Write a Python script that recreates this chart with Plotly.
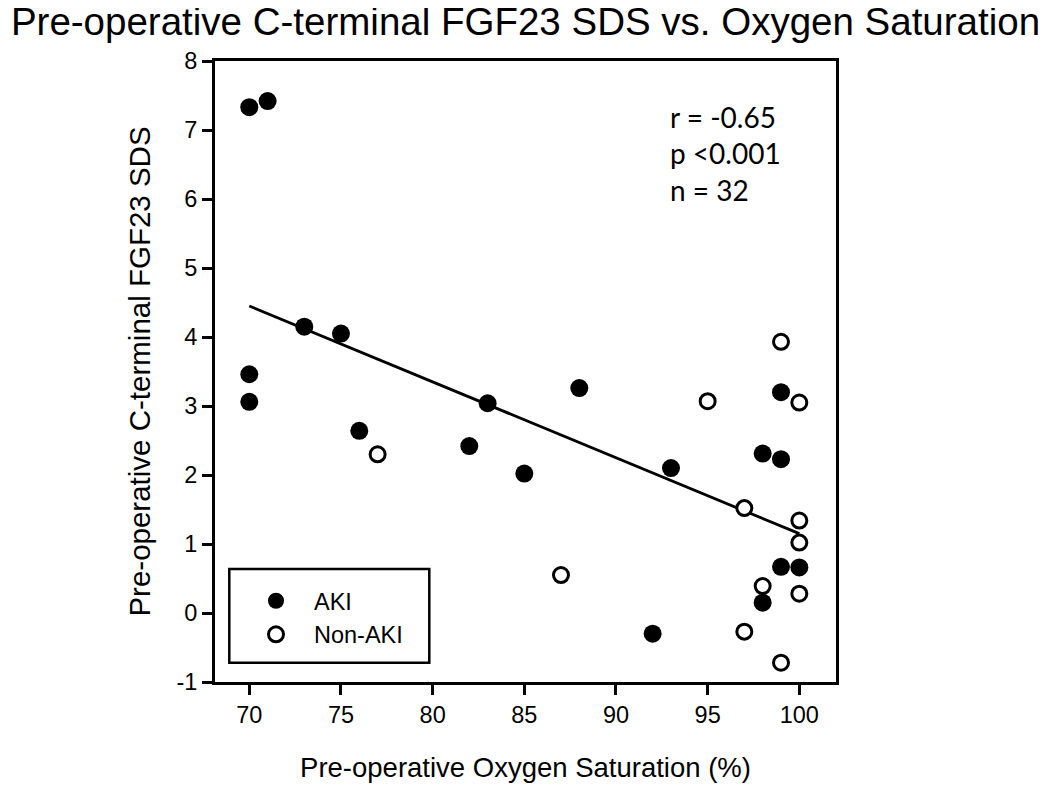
import plotly.graph_objects as go

# ---- data ----
aki_sat = [70, 71, 73, 75, 70, 70, 76, 82, 83, 85, 88, 92, 93, 98, 99, 99, 99, 100, 98]
aki_fgf = [7.33, 7.42, 4.15, 4.05, 3.46, 3.06, 2.64, 2.42, 3.04, 2.02, 3.26, -0.30, 2.10, 2.31, 3.20, 2.23, 0.67, 0.66, 0.15]

non_sat = [77, 87, 95, 97, 97, 98, 99, 99, 100, 100, 100, 100]
non_fgf = [2.30, 0.55, 3.07, 1.52, -0.27, 0.39, 3.93, -0.72, 3.05, 1.34, 1.02, 0.28]

fit_sat = [70, 100]
fit_fgf = [4.45, 1.15]

x_ticks = [70, 75, 80, 85, 90, 95, 100]
y_ticks = [-1, 0, 1, 2, 3, 4, 5, 6, 7, 8]
y_tick_labels = ["-1", "0", "1", "2", "3", "4", "5", "6", "7", "8"]

stats_text = "r = -0.65<br>p <0.001<br>n = 32"

FONT = "Liberation Sans, Arial, sans-serif"

# page body has an 8px offset; plot area target (window px): x 215-836, y 61-682
OFF = 8
L, R, T, B = 215, 836, 61, 682
W, H = 1050, 787
PW, PH = R - L, B - T

def px(x):
    return (x - L) / PW

def py(y):
    return (B - y) / PH

fig = go.Figure()
fig.add_trace(go.Scatter(
    x=fit_sat, y=fit_fgf, mode="lines", showlegend=False,
    line=dict(color="black", width=2.8), hoverinfo="skip"))
fig.add_trace(go.Scatter(
    x=aki_sat, y=aki_fgf, mode="markers", name="AKI",
    marker=dict(size=18, color="black", line=dict(color="black", width=0))))
fig.add_trace(go.Scatter(
    x=non_sat, y=non_fgf, mode="markers", name="Non-AKI",
    marker=dict(size=15, color="white", line=dict(color="black", width=3))))

axis_common = dict(
    showline=True, linecolor="black", linewidth=3, mirror=True,
    ticks="outside", ticklen=10, tickwidth=2.5, tickcolor="black",
    showgrid=False, zeroline=False,
    tickfont=dict(family=FONT, size=23.5, color="black"),
)

fig.update_xaxes(range=[68.13, 102], tickvals=x_ticks,
                 title=dict(text="Pre-operative Oxygen Saturation (%)",
                            font=dict(family=FONT, size=27.5, color="black"), standoff=31),
                 **axis_common)
fig.update_yaxes(range=[-1, 8], tickvals=y_ticks, ticktext=y_tick_labels,
                 title=dict(text="Pre-operative C-terminal FGF23 SDS",
                            font=dict(family=FONT, size=29.5, color="black"), standoff=18),
                 **axis_common)

# legend box
fig.add_shape(type="rect", xref="paper", yref="paper",
              x0=px(229.3), x1=px(429.3), y0=py(662.7), y1=py(569),
              line=dict(color="black", width=2.5), fillcolor="rgba(0,0,0,0)")

fig.add_annotation(text=stats_text, xref="paper", yref="paper",
                   x=px(668), y=py(98), xanchor="left", yanchor="top",
                   showarrow=False, align="left",
                   font=dict(family="Lato, sans-serif", size=28, color="black"))

fig.update_layout(
    width=W, height=H,
    margin=dict(l=L - OFF, r=W + OFF - R, t=T - OFF, b=H + OFF - B),
    paper_bgcolor="white", plot_bgcolor="white",
    title=dict(text="Pre-operative C-terminal FGF23 SDS vs. Oxygen Saturation",
               x=px(525.5), xanchor="center", xref="paper",
               y=1.0, yanchor="top", yref="container",
               font=dict(family=FONT, size=38.5, color="black")),
    legend=dict(x=px(238), y=py(579), xanchor="left", yanchor="top",
                bgcolor="rgba(0,0,0,0)", borderwidth=0,
                font=dict(family=FONT, size=23.5, color="black"),
                itemwidth=66, tracegroupgap=0),
    showlegend=True,
)

fig.write_html("out.html")
